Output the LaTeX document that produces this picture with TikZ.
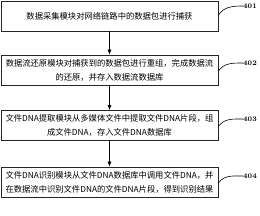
\documentclass[tikz,border=0pt]{standalone}
\usepackage{fontspec}
\newfontfamily\cjk{Noto Sans CJK SC}
\usetikzlibrary{arrows.meta}
\tikzset{
	stepbox/.style={
		draw=black!85,
		line width=0.8pt,
		align=center,
		inner sep=2pt,
		minimum width=217pt,
		minimum height=30pt,
		font=\cjk\fontsize{8.3}{14}\selectfont
	},
	steparr/.style={-{Latex[length=5pt,width=4pt]}, line width=0.7pt},
	numlbl/.style={anchor=west, inner sep=0pt, font=\fontsize{7}{8}\selectfont\bfseries},
	leader/.style={line width=0.6pt}
}
\begin{document}
\begin{tikzpicture}[x=1pt, y=1pt]
		\useasboundingbox (0,0) rectangle (260,215);
		% steps
		\node[stepbox] (s401) at (109.5,199) {数据采集模块对网络链路中的数据包进行捕获};
		\node[stepbox] (s402) at (109.5,145) {数据流还原模块对捕获到的数据包进行重组，完成数据流\\的还原，并存入数据流数据库};
		\node[stepbox] (s403) at (109.5,89.5) {文件DNA提取模块从多媒体文件中提取文件DNA片段，组\\成文件DNA，存入文件DNA数据库};
		\node[stepbox] (s404) at (109.5,33) {文件DNA识别模块从文件DNA数据库中调用文件DNA，并\\在数据流中识别文件DNA的文件DNA片段，得到识别结果};
		\draw[steparr] (s401.south) -- (s402.north);
		\draw[steparr] (s402.south) -- (s403.north);
		\draw[steparr] (s403.south) -- (s404.north);
		% reference numbers
		\node[numlbl] (l401) at (243,209) {401};
		\node[numlbl] (l402) at (243,152) {402};
		\node[numlbl] (l403) at (243,96) {403};
		\node[numlbl] (l404) at (243,39) {404};
		\draw[leader] ([yshift=1pt]s401.east) to[out=55,in=180] (l401.west);
		\draw[leader] ([yshift=-1pt]s402.east) to[out=55,in=180] (l402.west);
		\draw[leader] ([yshift=-1pt]s403.east) to[out=55,in=180] (l403.west);
		\draw[leader] ([yshift=-1pt]s404.east) to[out=55,in=180] (l404.west);
	\end{tikzpicture}
\end{document}
